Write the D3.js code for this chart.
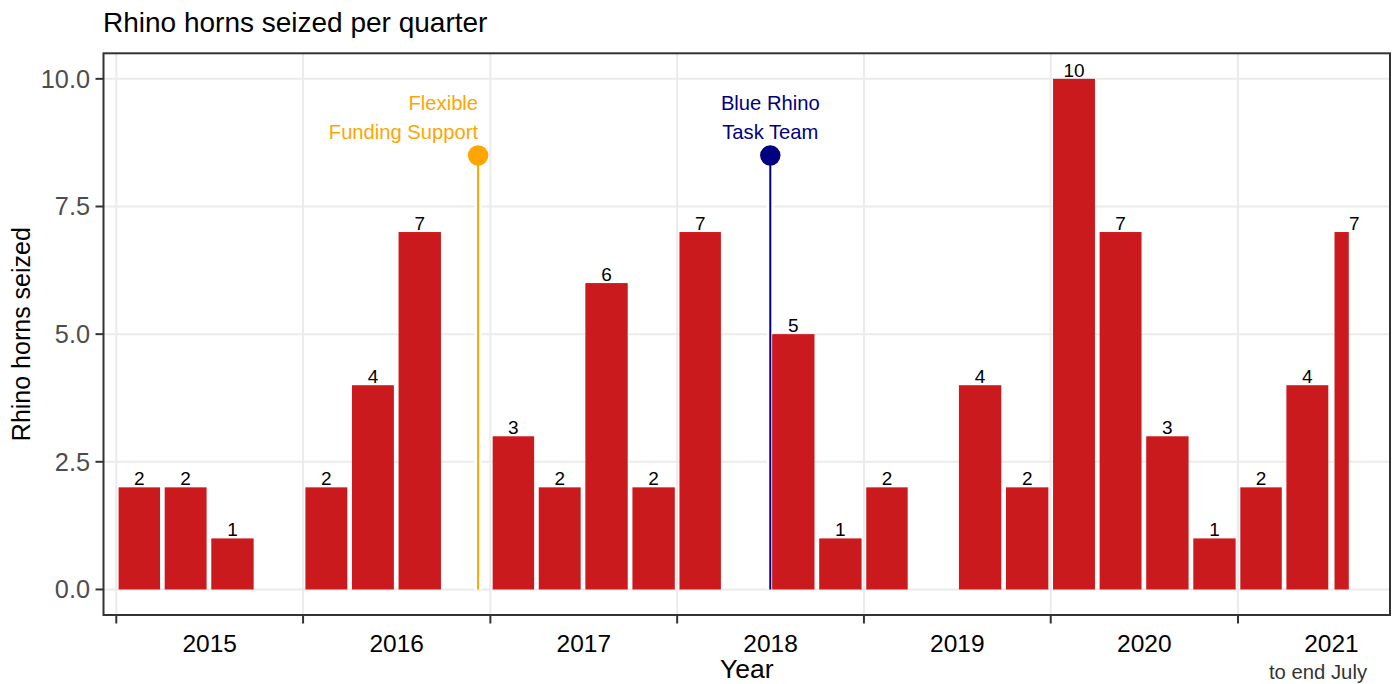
<!DOCTYPE html>
<html><head><meta charset="utf-8">
<script src="https://cdn.jsdelivr.net/npm/d3@7"></script>
<style>
html,body{margin:0;padding:0;background:#fff;}
svg{display:block;font-family:"Liberation Sans",Arial,Helvetica,sans-serif;}
</style></head>
<body><svg id="chart" width="1398" height="684"></svg>
<script>
// ---------------- data ----------------
const quarters = ["2015 Q1","2015 Q2","2015 Q3",
                  "2016 Q1","2016 Q2","2016 Q3",
                  "2017 Q1","2017 Q2","2017 Q3","2017 Q4",
                  "2018 Q1","2018 Q3","2018 Q4",
                  "2019 Q1","2019 Q3","2019 Q4",
                  "2020 Q1","2020 Q2","2020 Q3","2020 Q4",
                  "2021 Q1","2021 Q2","2021 Q3"];
const seized = [2,2,1, 2,4,7, 3,2,6,2, 7,5,1, 2,4,2, 10,7,3,1, 2,4,7];
// last quarter only partly covered (data to end July)
const partialQuarter = "2021 Q3";
const partialFrom = "2021-07-07";
const partialTo = "2021-08-07";

const yearTicks = [2015,2016,2017,2018,2019,2020,2021];
const yTicks = [0, 2.5, 5, 7.5, 10];
const yTickLabels = ["0.0","2.5","5.0","7.5","10.0"];

const eventLabels = [["Flexible","Funding Support"],["Blue Rhino","Task Team"]];
const eventDates = ["2016-12-08","2018-07-02"];
const eventLevels = [8.5, 8.5];

const xDomain = ["2014-12-07","2021-10-25"];
const yDomain = [-0.5, 10.5];

// ---------------- styles ----------------
const barColor = "#CB1A1E";
const eventColors = ["#FFA500","#000080"];
const eventAnchors = ["end","middle"];
const gridColor = "#EBEBEB";
const frameColor = "#333333";

const panel = {left:103.5, right:1390, top:53.3, bottom:615};

const parseD = s => new Date(s + "T00:00:00Z");
const x = d3.scaleUtc().domain(xDomain.map(parseD)).range([panel.left, panel.right]);
const y = d3.scaleLinear().domain(yDomain).range([panel.bottom, panel.top]);

const bars = quarters.map((q, i) => {
  const yr = +q.slice(0,4), qn = +q.slice(6);
  const qs = new Date(Date.UTC(yr, (qn-1)*3, 1));
  const qe = new Date(Date.UTC(yr, qn*3, 1));
  let s = qs, e = qe;
  if (q === partialQuarter) { s = parseD(partialFrom); e = parseD(partialTo); }
  const pad = (e - s) * 0.05;
  return {q, v: seized[i], x0: new Date(+s + pad), x1: new Date(+e - pad),
          mid: new Date((+qs + +qe) / 2)};
});

const svg = d3.select("#chart");
svg.append("rect").attr("width",1398).attr("height",684).attr("fill","#fff");

// grid
const g = svg.append("g");
g.selectAll(".hg").data(yTicks).join("line")
  .attr("x1", panel.left).attr("x2", panel.right)
  .attr("y1", d => y(d)).attr("y2", d => y(d))
  .attr("stroke", gridColor).attr("stroke-width", 2);
g.selectAll(".vg").data(yearTicks).join("line")
  .attr("x1", d => x(new Date(Date.UTC(d,0,1)))).attr("x2", d => x(new Date(Date.UTC(d,0,1))))
  .attr("y1", panel.top).attr("y2", panel.bottom)
  .attr("stroke", gridColor).attr("stroke-width", 2);

// event halos
const ev = eventDates.map((d,i) => ({date: parseD(d), level: eventLevels[i], label: eventLabels[i],
                                      color: eventColors[i], anchor: eventAnchors[i]}));
svg.selectAll(".halo").data(ev).join("line")
  .attr("x1", d => x(d.date)).attr("x2", d => x(d.date))
  .attr("y1", y(0)).attr("y2", d => y(d.level))
  .attr("stroke", "#fff").attr("stroke-width", 7);

// bars
svg.selectAll(".bar").data(bars).join("rect")
  .attr("x", d => x(d.x0)).attr("width", d => x(d.x1) - x(d.x0))
  .attr("y", d => y(d.v)).attr("height", d => y(0) - y(d.v))
  .attr("fill", barColor);

svg.selectAll(".blab").data(bars).join("text")
  .attr("x", d => x(d.mid)).attr("y", d => y(d.v) - 2.3)
  .attr("text-anchor","middle").attr("font-size", 19).attr("fill","#000")
  .text(d => d.v);

// event lines
svg.selectAll(".evl").data(ev).join("line")
  .attr("x1", d => x(d.date)).attr("x2", d => x(d.date))
  .attr("y1", y(0)).attr("y2", d => y(d.level))
  .attr("stroke", d => d.color).attr("stroke-width", 2);
svg.selectAll(".evp").data(ev).join("circle")
  .attr("cx", d => x(d.date)).attr("cy", d => y(d.level)).attr("r", 10.2)
  .attr("fill", d => d.color);
ev.forEach(d => {
  d.label.forEach((t, j) => {
    svg.append("text").attr("x", x(d.date)).attr("y", 110 + j * 28.8)
      .attr("text-anchor", d.anchor).attr("font-size", 20.2).attr("fill", d.color).text(t);
  });
});

// panel border
svg.append("rect").attr("x", panel.left).attr("y", panel.top)
  .attr("width", panel.right - panel.left).attr("height", panel.bottom - panel.top)
  .attr("fill","none").attr("stroke", frameColor).attr("stroke-width", 2);

// y axis
svg.selectAll(".yt").data(yTicks).join("line")
  .attr("x1", panel.left - 8).attr("x2", panel.left)
  .attr("y1", d => y(d)).attr("y2", d => y(d))
  .attr("stroke", frameColor).attr("stroke-width", 2);
svg.selectAll(".ytl").data(yTicks).join("text")
  .attr("x", 90).attr("y", d => y(d) + 9)
  .attr("text-anchor","end").attr("font-size", 25.3).attr("fill","#4D4D4D")
  .text((d,i) => yTickLabels[i]);

// x axis
const yearStart = yr => x(new Date(Date.UTC(yr,0,1)));
svg.selectAll(".xt").data(yearTicks).join("line")
  .attr("x1", d => yearStart(d)).attr("x2", d => yearStart(d))
  .attr("y1", panel.bottom).attr("y2", panel.bottom + 8.5)
  .attr("stroke", frameColor).attr("stroke-width", 2);
svg.selectAll(".xtl").data(yearTicks).join("text")
  .attr("x", d => (yearStart(d) + yearStart(d+1)) / 2).attr("y", 651.7)
  .attr("text-anchor","middle").attr("font-size", 24.5).attr("fill","#000")
  .text(d => d);

svg.append("text").attr("x", 1318).attr("y", 678.5)
  .attr("text-anchor","middle").attr("font-size", 20.3).attr("fill","#333")
  .text("to end July");

// titles
svg.append("text").attr("x", (panel.left + panel.right)/2).attr("y", 677.5)
  .attr("text-anchor","middle").attr("font-size", 26.5).attr("fill","#000").text("Year");
svg.append("text").attr("transform", `translate(29.5,${(panel.top+panel.bottom)/2}) rotate(-90)`)
  .attr("text-anchor","middle").attr("font-size", 25).attr("fill","#000").text("Rhino horns seized");
svg.append("text").attr("x", 103).attr("y", 32.3)
  .attr("font-size", 28).attr("fill","#000").text("Rhino horns seized per quarter");
</script></body></html>
